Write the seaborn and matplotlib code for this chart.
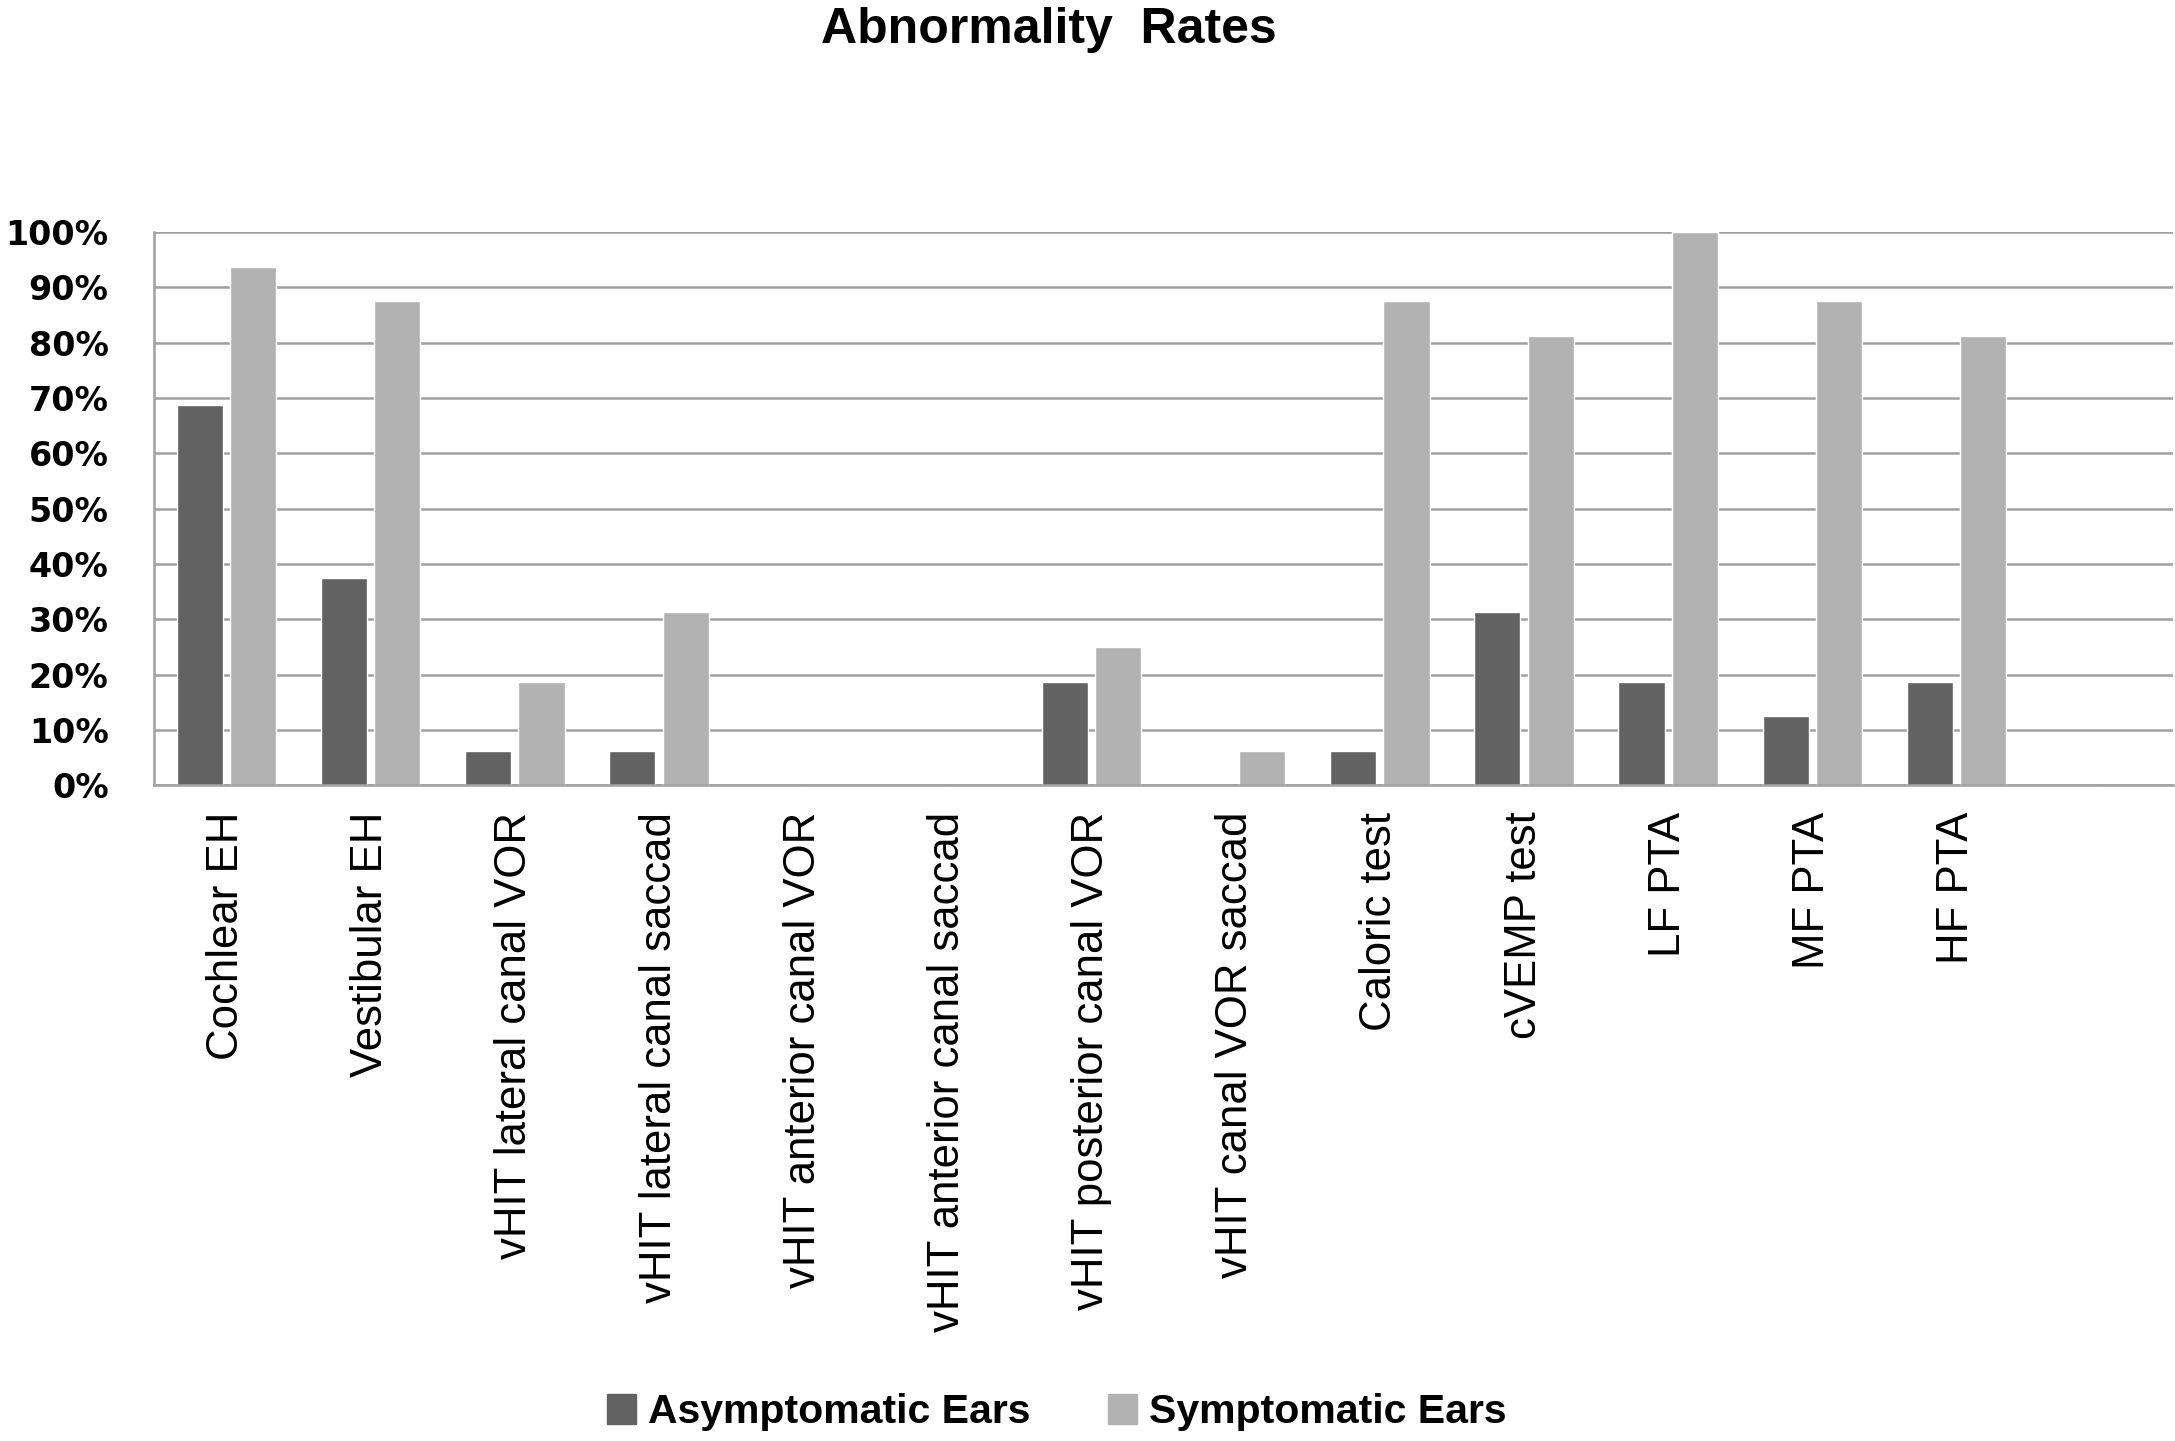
import numpy as np
import pandas as pd
import matplotlib.pyplot as plt
import matplotlib.ticker as mtick
import seaborn as sns

# Values (fractions of ears)
categories = ['Cochlear EH', 'Vestibular EH', 'vHIT lateral canal VOR',
              'vHIT lateral canal saccad', 'vHIT anterior canal VOR',
              'vHIT anterior canal saccad', 'vHIT posterior canal VOR',
              'vHIT canal VOR saccad', 'Caloric test', 'cVEMP test',
              'LF PTA', 'MF PTA', 'HF PTA', '']
asymptomatic = [0.6875, 0.375, 0.0625, 0.0625, 0.0, 0.0, 0.1875,
                0.0, 0.0625, 0.3125, 0.1875, 0.125, 0.1875, 0.0]
symptomatic = [0.9375, 0.875, 0.1875, 0.3125, 0.0, 0.0, 0.25,
               0.0625, 0.875, 0.8125, 1.0, 0.875, 0.8125, 0.0]
series = ['Asymptomatic Ears', 'Symptomatic Ears']
colors = ['#626262', '#b2b2b2']

df = pd.DataFrame({
    'Test': categories * 2,
    'Group': [series[0]] * len(categories) + [series[1]] * len(categories),
    'Rate': asymptomatic + symptomatic,
})

sns.set_style('white')
plt.rcParams['font.family'] = ['Liberation Sans', 'DejaVu Sans']
plt.rcParams['text.color'] = 'black'
plt.rcParams['xtick.color'] = 'black'
plt.rcParams['ytick.color'] = 'black'

fig = plt.figure(figsize=(21.75, 14.41), dpi=100)
ax = fig.add_axes([0.071, 0.455, 0.928, 0.384])

sns.barplot(data=df, x='Test', y='Rate', hue='Group', order=categories,
            hue_order=series, palette=colors, width=0.74, gap=0.135,
            saturation=1, legend=False, ax=ax)

ax.set_xlim(-0.5, len(categories) - 0.5)
ax.set_ylim(0, 1.0)
ax.yaxis.set_major_locator(mtick.MultipleLocator(0.1))
ax.yaxis.set_major_formatter(mtick.PercentFormatter(1.0, decimals=0))
ax.grid(axis='y', color='#a0a0a0', linewidth=1.8)
ax.set_axisbelow(True)
for side in ['top', 'right']:
    ax.spines[side].set_visible(False)
for side in ['left', 'bottom']:
    ax.spines[side].set_color('#a0a0a0')
    ax.spines[side].set_linewidth(1.8)

ax.set_xlabel('')
ax.set_ylabel('')
ax.set_xticks(range(len(categories)))
ax.set_xticklabels(categories, rotation=90, fontsize=31.5, color='black',
                   family=['Liberation Sans', 'DejaVu Sans'])
ax.tick_params(axis='x', length=0, pad=19)
ax.tick_params(axis='y', length=0, pad=33)
for lbl in ax.get_yticklabels():
    lbl.set_fontsize(24)
    lbl.set_fontweight('bold')
    lbl.set_color('black')
    lbl.set_family(['DejaVu Sans'])

fig.text(0.482, 0.979, 'Abnormality  Rates', ha='center', va='center',
         fontsize=36, fontweight='bold', color='black',
         family=['Liberation Sans'])

handles = [plt.Rectangle((0, 0), 1, 1, color=c) for c in colors]
fig.legend(handles, series, loc='center', bbox_to_anchor=(0.486, 0.02),
           ncol=2, frameon=False, handlelength=0.7, handleheight=0.75,
           handletextpad=0.3, columnspacing=1.9,
           prop={'family': ['Liberation Sans'], 'weight': 'bold', 'size': 29.5})

plt.savefig('out.png', dpi=100)
